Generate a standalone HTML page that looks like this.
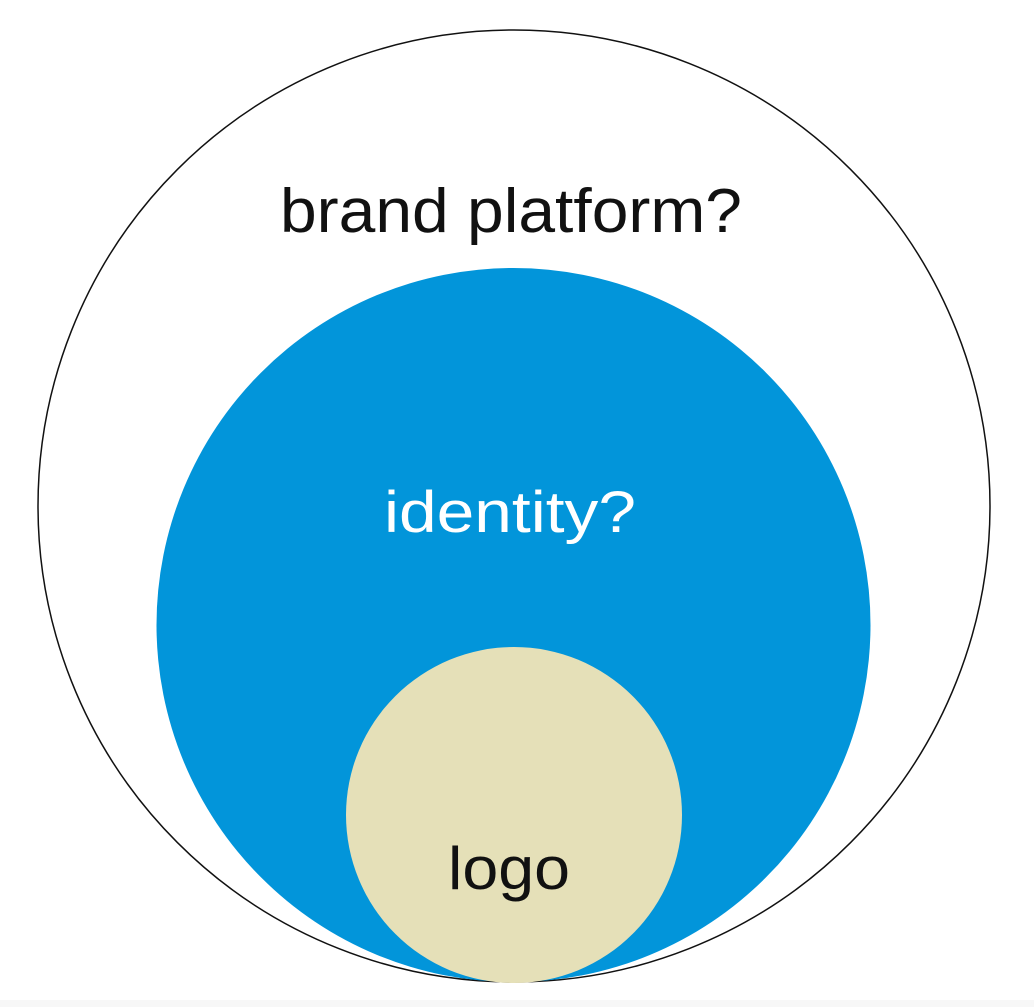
<!DOCTYPE html>
<html><head><style>html,body{margin:0;padding:0;background:#fff;}svg{display:block}</style></head>
<body>
<svg width="1034" height="1007" viewBox="0 0 1034 1007" xmlns="http://www.w3.org/2000/svg">
<rect x="0" y="0" width="1034" height="1007" fill="#fff"/>
<rect x="0" y="1000" width="1034" height="7" fill="#f7f7f7"/>
<circle cx="514" cy="506" r="476" fill="#fff" stroke="#111" stroke-width="1.5"/>
<circle cx="513.5" cy="625" r="357" fill="#0295DA"/>
<circle cx="514" cy="815" r="168" fill="#E5E0B8"/>
<text x="511" y="232" font-family="Liberation Sans, sans-serif" font-size="62" fill="#111" text-anchor="middle" textLength="462" lengthAdjust="spacingAndGlyphs">brand platform?</text>
<text x="510" y="532" font-family="Liberation Sans, sans-serif" font-size="58" fill="#fff" text-anchor="middle" textLength="252" lengthAdjust="spacingAndGlyphs">identity?</text>
<text x="509" y="889" font-family="Liberation Sans, sans-serif" font-size="60" fill="#111" text-anchor="middle" textLength="122" lengthAdjust="spacingAndGlyphs">logo</text>
</svg>
</body></html>
